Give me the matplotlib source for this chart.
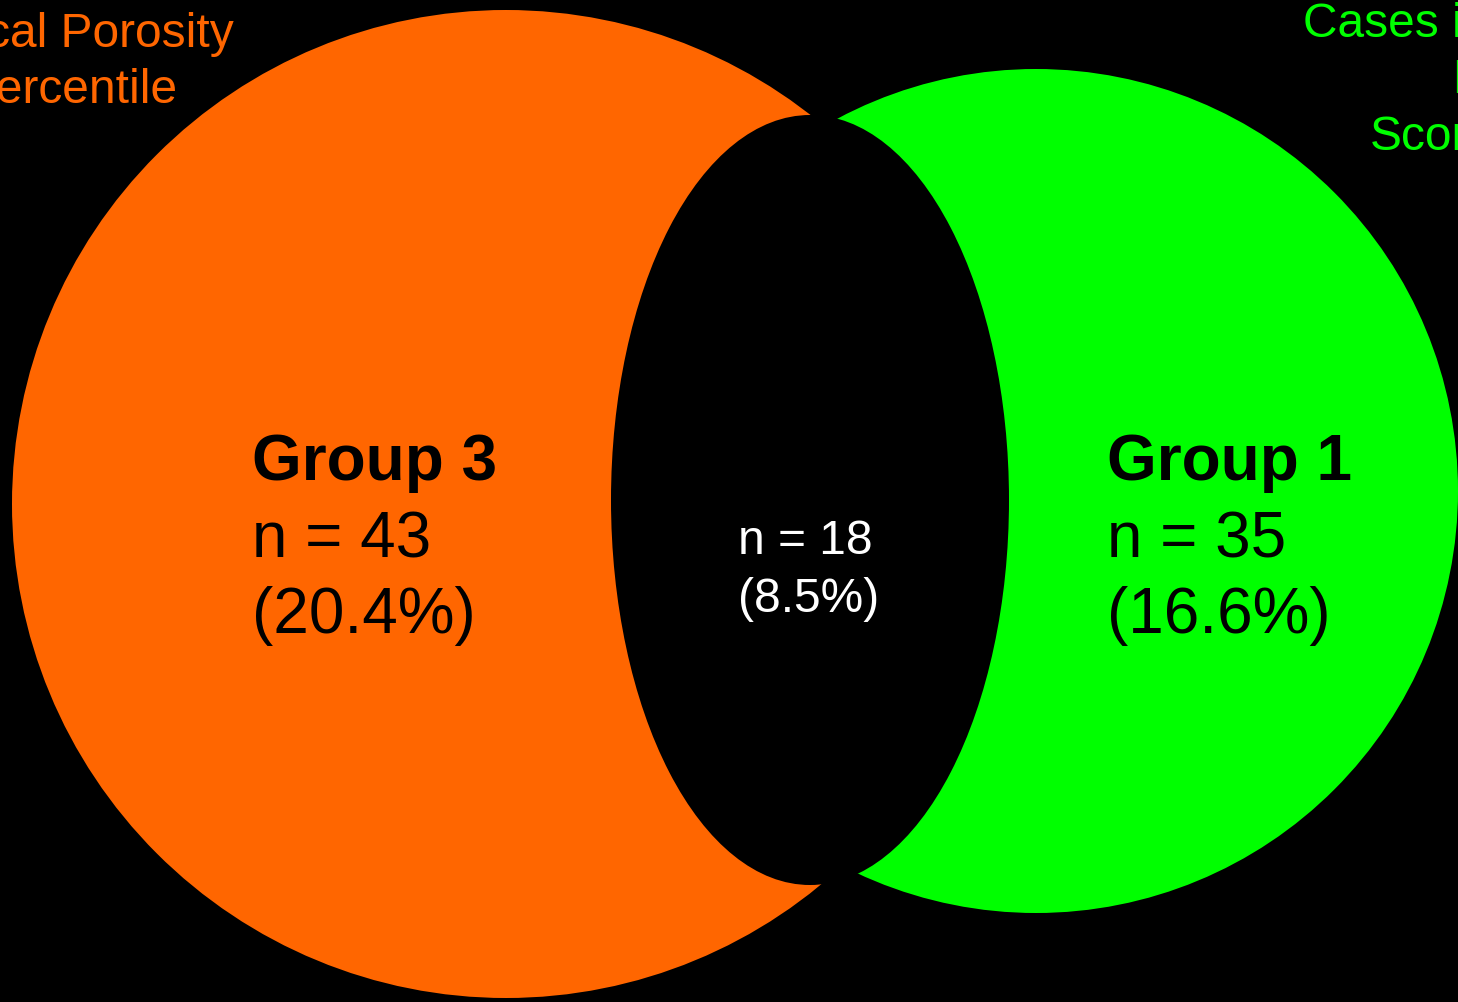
import matplotlib.pyplot as plt
from matplotlib.patches import Circle, Ellipse

# data
group_names = ['Group 3', 'Group 1']
group_n = [43, 35]
group_pct = [20.4, 16.6]
overlap_n = 18
overlap_pct = 8.5
left_title = ['Cortical Porosity', 'Percentile']
right_title = ['Cases in', 'Lowest', 'Score']

orange = '#FF6600'
green = '#00FF00'

plt.rcParams['font.family'] = ['Liberation Sans', 'DejaVu Sans']

W, H = 1458, 1002
fig = plt.figure(figsize=(W / 100, H / 100), dpi=100, facecolor='black')
ax = fig.add_axes([0, 0, 1, 1])
ax.set_xlim(0, W)
ax.set_ylim(H, 0)
ax.set_facecolor('black')
ax.axis('off')

# circles (pixel coords)
ax.add_patch(Circle((506, 504), 494, color=orange, lw=0))
ax.add_patch(Circle((1036, 491), 422, color=green, lw=0))
# overlap lens
ax.add_patch(Ellipse((810, 500), 398, 770, color='black', lw=0))

big = 46
small = 34.5

# group labels
for x, name, n, pct in zip([252, 1107], group_names, group_n, group_pct):
    ax.text(x, 480, name, fontsize=big, fontweight='bold', color='black', va='baseline')
    ax.text(x, 557, f'n = {n}', fontsize=big, color='black', va='baseline')
    ax.text(x, 633, f'({pct}%)', fontsize=big, color='black', va='baseline')

# overlap
ax.text(738, 554, f'n = {overlap_n}', fontsize=small, color='white', va='baseline')
ax.text(738, 612, f'({overlap_pct}%)', fontsize=small, color='white', va='baseline')

# set titles (cropped at figure edges, as in the source slide)
ax.text(234, 47, left_title[0], fontsize=small, color=orange, ha='right', va='baseline')
ax.text(177, 103, left_title[1], fontsize=small, color=orange, ha='right', va='baseline')

ax.text(1303, 37, right_title[0], fontsize=small, color=green, ha='left', va='baseline')
ax.text(1452, 93, right_title[1], fontsize=small, color=green, ha='left', va='baseline')
ax.text(1370, 150, right_title[2], fontsize=small, color=green, ha='left', va='baseline')

fig.savefig('out.png', dpi=100, facecolor='black')
